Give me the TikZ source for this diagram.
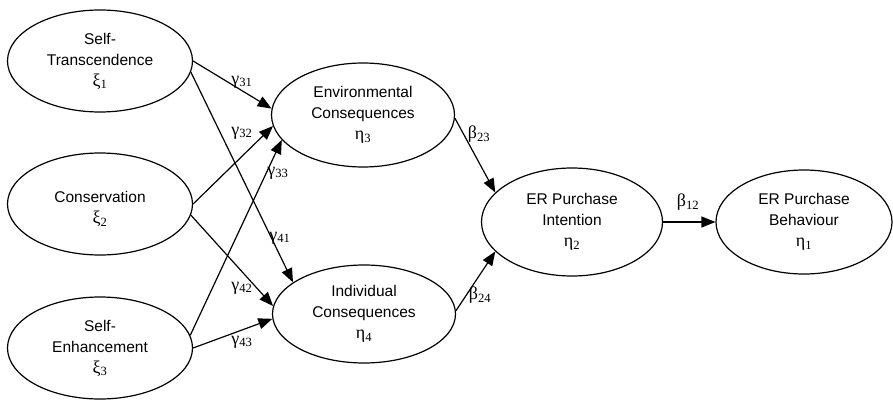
\documentclass[tikz,border=0pt]{standalone}
\usepackage{fontspec}
\setmainfont{Liberation Sans}
\newfontfamily\grk{Liberation Serif}
\usetikzlibrary{shapes.geometric,arrows.meta}

\newcommand\grsub[2]{{\grk\fontsize{18}{21}\selectfont #1\textsubscript{#2}}}

\begin{document}
\begin{tikzpicture}[x=1pt,y=-1pt,line width=1.2pt,line join=round,
    >={Triangle[length=14pt,width=11pt]},
    latent/.style={ellipse,draw,inner sep=0pt,align=center,
      minimum width=185pt,minimum height=102pt,
      font=\fontsize{15.5}{21}\selectfont},
    coef/.style={inner sep=1pt}]
      \useasboundingbox (0,0) rectangle (893,401);
      % exogenous values
      \node[latent] (st)   at (100, 61) {Self-\\Transcendence\\\grsub{ξ}{1}};
      \node[latent] (cons) at (100,204) {~\\Conservation\\\grsub{ξ}{2}};
      \node[latent] (se)   at (100,348) {Self-\\Enhancement\\\grsub{ξ}{3}};
      % consequences
      \node[latent,minimum width=183pt,minimum height=104pt] (ec) at (363,115) {Environmental\\Consequences\\\grsub{η}{3}};
      \node[latent,minimum width=183pt,minimum height=98pt]  (ic) at (364,314) {Individual\\Consequences\\\grsub{η}{4}};
      % purchase
      \node[latent,minimum width=181pt,minimum height=108pt] (pi) at (572,222) {ER Purchase\\Intention\\\grsub{η}{2}};
      \node[latent,minimum width=176pt,minimum height=104pt] (pb) at (804,222) {ER Purchase\\Behaviour\\\grsub{η}{1}};
      % paths
      \draw[->] (st.0)    -- (ec.176);
      \draw[->] (st.-7)   -- (ic.156);
      \draw[->] (cons.0)  -- (ec.187);
      \draw[->] (cons.-7) -- (ic.175);
      \draw[->] (se.8)    -- (ec.197);
      \draw[->] (se.0)    -- (ic.183);
      \draw[->] (ec.-2)   -- (pi.159);
      \draw[->] (ic.2)    -- (pi.201);
      \draw[->] (pi.0)    -- (pb.180);
      % coefficients
      \node[coef] (g31) at (242, 82) {\grsub{γ}{31}};
      \node[coef] (g32) at (242,133) {\grsub{γ}{32}};
      \node[coef] (g33) at (278,173) {\grsub{γ}{33}};
      \node[coef] (g41) at (280,238) {\grsub{γ}{41}};
      \node[coef] (g42) at (242,288) {\grsub{γ}{42}};
      \node[coef] (g43) at (242,342) {\grsub{γ}{43}};
      \node[coef] (b23) at (479,134) {\grsub{β}{23}};
      \node[coef] (b24) at (480,295) {\grsub{β}{24}};
      \node[coef] (b12) at (688,202) {\grsub{β}{12}};
\end{tikzpicture}
\end{document}
